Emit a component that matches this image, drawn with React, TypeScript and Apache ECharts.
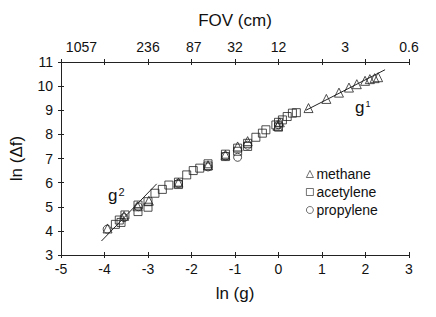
import React, { useEffect, useRef } from "react";
import * as echarts from "echarts";

const methane: [number, number][] = [
  [-3.93, 4.1], [-3.55, 4.62], [-3.24, 5.02], [-2.98, 5.25], [-2.3, 6.0],
  [-1.62, 6.72], [-1.22, 7.15], [-0.94, 7.5], [-0.71, 7.72], [-0.02, 8.35],
  [0.03, 8.5], [0.69, 9.09], [1.1, 9.47], [1.39, 9.73], [1.62, 9.94],
  [1.8, 10.08], [1.99, 10.22], [2.1, 10.29], [2.21, 10.33], [2.29, 10.37],
];
const acetylene: [number, number][] = [
  [-3.75, 4.27], [-3.66, 4.45], [-3.53, 4.66], [-3.62, 4.35], [-3.23, 5.07],
  [-3.23, 4.8], [-3.0, 5.21], [-3.0, 4.98], [-2.84, 5.56], [-2.67, 5.72],
  [-2.52, 5.9], [-2.3, 6.02], [-2.3, 5.92], [-2.11, 6.32], [-1.96, 6.5],
  [-1.81, 6.6], [-1.62, 6.69], [-1.62, 6.78], [-1.22, 7.08], [-1.22, 7.18],
  [-0.94, 7.43], [-0.94, 7.3], [-0.71, 7.63], [-0.71, 7.5], [-0.52, 7.88],
  [-0.37, 8.05], [-0.29, 8.19], [-0.06, 8.39], [0.0, 8.3], [0.0, 8.5],
  [0.09, 8.6], [0.2, 8.74], [0.32, 8.88], [0.41, 8.9],
];
const propylene: [number, number][] = [
  [-3.94, 4.07], [-3.55, 4.55], [-3.22, 5.0], [-2.3, 5.97], [-1.62, 6.65],
  [-1.22, 7.1], [-0.94, 7.05], [-0.71, 7.55], [0.0, 8.4],
];
const fitG2: [number, number][] = [[-4.07, 3.58], [-2.8, 5.95]];
const fitG1: [number, number][] = [[0.63, 9.0], [2.45, 10.68]];

const fovPositions = [-4.53, -3, -1.95, -1, 0, 1.53, 3];
const fovLabels = ["1057", "236", "87", "32", "12", "3", "0.6"];

const FONT = "'Liberation Sans', Arial, Helvetica, sans-serif";

export default function App() {
  const ref = useRef<HTMLDivElement>(null);
  useEffect(() => {
    if (!ref.current) return;
    const chart = echarts.init(ref.current, undefined, { renderer: "svg" });
    const axisLine = { show: true, onZero: false, lineStyle: { color: "#222", width: 1 } };
    const tickOut = { show: true, inside: false, length: 3, lineStyle: { color: "#222", width: 1 } };
    const tickIn = { show: true, inside: true, length: 3, lineStyle: { color: "#222", width: 1 } };
    const lbl = { color: "#111", fontSize: 14, fontFamily: FONT };
    const baseX = { type: "value", min: -5, max: 3, interval: 1, splitLine: { show: false } };
    const baseY = { type: "value", min: 3, max: 11, interval: 1, splitLine: { show: false } };
    const sym = { color: "transparent", borderColor: "#222", borderWidth: 1 };
    chart.setOption({
      animation: false,
      backgroundColor: "#fff",
      textStyle: { fontFamily: FONT },
      grid: { left: 58, right: 27, top: 62, bottom: 62 },
      xAxis: [
        {
          ...baseX, position: "bottom", axisLine, axisTick: tickOut,
          axisLabel: { ...lbl, margin: 7 },
          name: "ln (g)", nameLocation: "middle", nameGap: 30,
          nameTextStyle: { color: "#111", fontSize: 17, fontFamily: FONT },
        },
        { ...baseX, position: "bottom", axisLine, axisTick: tickIn, axisLabel: { show: false } },
        {
          ...baseX, position: "top", axisLine, axisTick: tickOut,
          axisLabel: {
            ...lbl, margin: 8,
            customValues: fovPositions,
            formatter: (v: number) => {
              const i = fovPositions.findIndex((p) => Math.abs(p - v) < 1e-6);
              return i >= 0 ? fovLabels[i] : "";
            },
          },
          name: "FOV (cm)", nameLocation: "middle", nameGap: 33,
          nameTextStyle: { color: "#111", fontSize: 17, fontFamily: FONT },
        },
        { ...baseX, position: "top", axisLine, axisTick: tickIn, axisLabel: { show: false } },
      ],
      yAxis: [
        {
          ...baseY, position: "left", axisLine, axisTick: tickOut,
          axisLabel: { ...lbl, margin: 8 },
          name: "ln (\u0394f)", nameLocation: "middle", nameGap: 36, nameRotate: 90,
          nameTextStyle: { color: "#111", fontSize: 17, fontFamily: FONT },
        },
        { ...baseY, position: "left", axisLine, axisTick: tickIn, axisLabel: { show: false } },
      ],
      legend: {
        orient: "vertical",
        left: 301,
        top: 162,
        itemWidth: 7,
        itemHeight: 7,
        itemGap: 4,
        data: ["methane", "acetylene", "propylene"],
        itemStyle: { color: "transparent", borderColor: "#222", borderWidth: 0.8 },
        textStyle: { color: "#111", fontSize: 14, fontFamily: FONT, padding: [0, 0, 0, -2] },
      },
      series: [
        {
          name: "fitG2", type: "line", data: fitG2, symbol: "none",
          lineStyle: { color: "#222", width: 1 }, silent: true,
        },
        {
          name: "fitG1", type: "line", data: fitG1, symbol: "none",
          lineStyle: { color: "#222", width: 1 }, silent: true,
        },
        { name: "acetylene", type: "scatter", symbol: "rect", symbolSize: 8, data: acetylene, itemStyle: sym },
        { name: "propylene", type: "scatter", symbol: "circle", symbolSize: 8, data: propylene, itemStyle: sym },
        { name: "methane", type: "scatter", symbol: "triangle", symbolSize: 9, data: methane, itemStyle: sym },
      ],
      graphic: [
        {
          type: "text", left: 108, top: 186,
          style: {
            text: "{b|g}{s|2}",
            rich: {
              b: { fontSize: 17, fontFamily: FONT, fill: "#111" },
              s: { fontSize: 11, fontFamily: FONT, fill: "#111", verticalAlign: "top", padding: [0, 0, 8, 1] },
            },
          },
        },
        {
          type: "text", left: 355, top: 99,
          style: {
            text: "{b|g}{s|1}",
            rich: {
              b: { fontSize: 17, fontFamily: FONT, fill: "#111" },
              s: { fontSize: 9, fontFamily: FONT, fill: "#111", verticalAlign: "top", padding: [0, 0, 8, 1] },
            },
          },
        },
      ],
    });
    return () => chart.dispose();
  }, []);
  return <div ref={ref} style={{ width: 436, height: 317, margin: -8 }} />;
}
